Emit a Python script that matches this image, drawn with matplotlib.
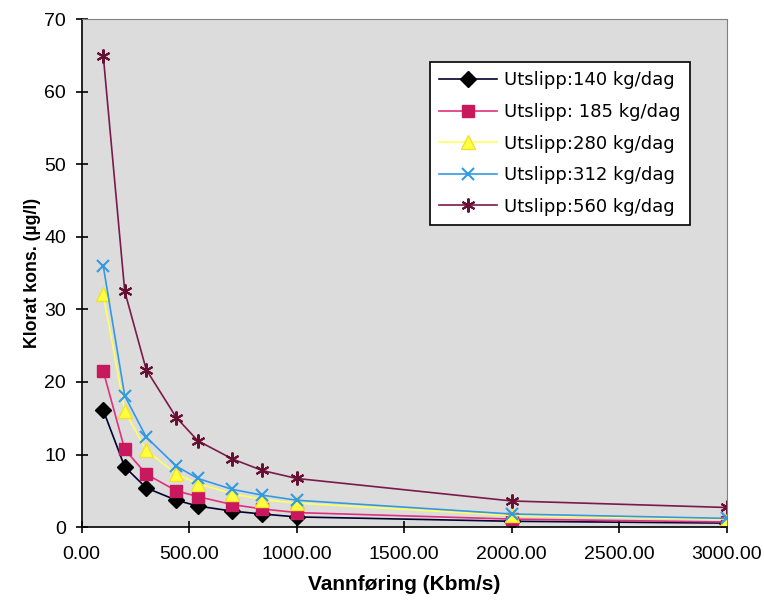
import matplotlib.pyplot as plt
from matplotlib import font_manager

plt.rcParams['font.family'] = ['Liberation Sans', 'DejaVu Sans']

# vannføring (Kbm/s)
flow = [100, 200, 300, 440, 540, 700, 840, 1000, 2000, 3000]

# klorat konsentrasjon (ug/l) per utslipp
c140 = [16.1, 8.3, 5.4, 3.7, 2.9, 2.2, 1.8, 1.4, 0.8, 0.55]
c185 = [21.5, 10.7, 7.3, 5.0, 4.2, 3.1, 2.5, 2.0, 1.1, 0.7]
c280 = [32.1, 16.0, 10.6, 7.3, 6.0, 4.6, 3.8, 3.3, 1.6, 1.1]
c312 = [36.0, 18.1, 12.4, 8.4, 6.7, 5.2, 4.4, 3.7, 1.8, 1.2]
c560 = [65.0, 32.5, 21.7, 15.1, 11.9, 9.4, 7.8, 6.7, 3.6, 2.7]

labels = ['Utslipp:140 kg/dag', 'Utslipp: 185 kg/dag', 'Utslipp:280 kg/dag',
          'Utslipp:312 kg/dag', 'Utslipp:560 kg/dag']
xticks = [0, 500, 1000, 1500, 2000, 2500, 3000]
yticks = [0, 10, 20, 30, 40, 50, 60, 70]

# narrow font for the tick numbers if we have it
try:
    font_manager.findfont('Liberation Sans Narrow', fallback_to_default=False)
    tick_font = {'family': 'Liberation Sans Narrow', 'size': 17}
except ValueError:
    tick_font = {'family': 'Liberation Sans', 'size': 14}

fig = plt.figure(figsize=(7.64, 6.01), dpi=100)
ax = fig.add_axes([0.107, 0.123, 0.844, 0.845])
ax.set_facecolor('#dcdcdc')

ax.plot(flow, c140, color='#000033', marker='D', markersize=8, markerfacecolor='black',
        markeredgecolor='black', linewidth=1.2, label=labels[0])
ax.plot(flow, c185, color='#e0307a', marker='s', markersize=9, markerfacecolor='#c8185e',
        markeredgecolor='#c8185e', linewidth=1.2, label=labels[1])
ax.plot(flow, c280, color='#ffff60', marker='^', markersize=10, markerfacecolor='#ffff40',
        markeredgecolor='#f0e030', linewidth=1.2, label=labels[2])
ax.plot(flow, c312, color='#3399e0', marker='x', markersize=9, markeredgewidth=1.5,
        linewidth=1.2, label=labels[3])
ax.plot(flow, c560, color='#7a1a4a', marker=(6, 2, 0), markersize=10, markeredgewidth=1.5,
        markeredgecolor='#661133', linewidth=1.2, label=labels[4])

ax.set_xlim(0, 3000)
ax.set_ylim(0, 70)
ax.set_xticks(xticks)
ax.set_xticklabels([f'{t:.2f}' for t in xticks], fontdict=tick_font)
ax.set_yticks(yticks)
ax.set_yticklabels([str(t) for t in yticks], fontdict=tick_font)
ax.tick_params(direction='inout', length=8.6, width=1.2)
ax.tick_params(axis='x', pad=9)
ax.tick_params(axis='y', pad=7)

for s in ['top', 'right']:
    ax.spines[s].set_color('#808080')
    ax.spines[s].set_linewidth(0.8)
for s in ['left', 'bottom']:
    ax.spines[s].set_linewidth(1.2)

ax.set_xlabel('Vannføring (Kbm/s)', fontsize=15, fontweight='bold', labelpad=9)
ax.set_ylabel('Klorat kons. (µg/l)', fontsize=12.8, fontweight='bold', labelpad=2)

leg = ax.legend(loc='upper right', bbox_to_anchor=(0.943, 0.915),
                prop={'family': 'DejaVu Sans', 'size': 13},
                fancybox=False, framealpha=1, edgecolor='black', handlelength=3.2,
                handletextpad=0.4, borderpad=0.5, labelspacing=0.75, borderaxespad=0)
leg.get_frame().set_linewidth(1.2)

fig.savefig('out.png', dpi=100)
